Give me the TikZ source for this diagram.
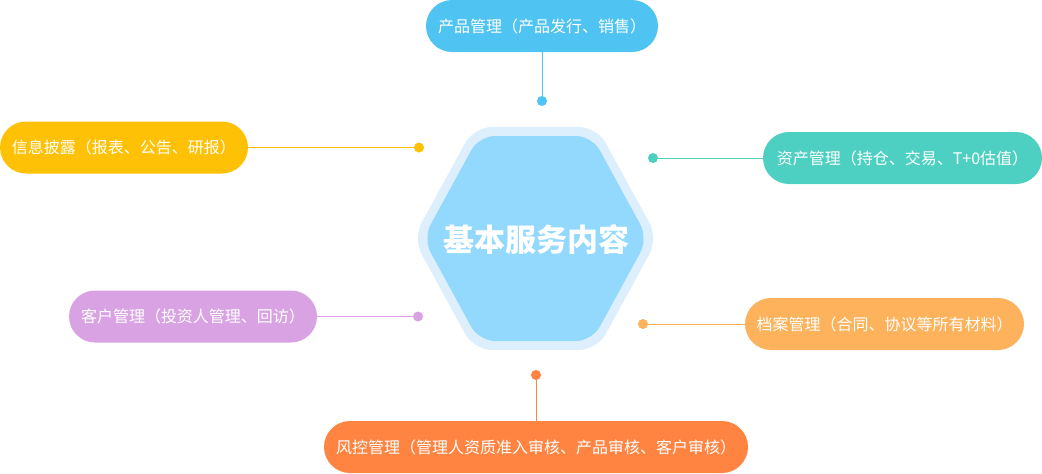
\documentclass[tikz,border=0pt]{standalone}
\usepackage{fontspec}
\usepackage{tikz}
\usetikzlibrary{positioning,calc}
\newfontfamily\cjk{Noto Sans CJK SC}
\definecolor{hexout}{HTML}{DDEFFD}
\definecolor{hexin}{HTML}{93D9FD}
\definecolor{cblue}{HTML}{4FC4F2}
\definecolor{cyellow}{HTML}{FFC105}
\definecolor{cteal}{HTML}{4DD0C1}
\definecolor{cpurple}{HTML}{D9A3E3}
\definecolor{corange}{HTML}{FDB25B}
\definecolor{cred}{HTML}{FF8442}

\begin{document}
\begin{tikzpicture}[x=1pt,y=-1pt,
    pill/.style={fill=#1, text=white, rounded corners=26pt, minimum height=52pt,
      inner sep=0pt, font=\cjk\fontsize{16}{16}\selectfont},
    dot/.style={circle, fill=#1, minimum size=10pt, inner sep=0pt},
    link/.style={draw=#1, line width=1pt}]
      \useasboundingbox (0,0) rectangle (1042,474);
      % center hexagon
      \fill[hexout, rounded corners=18pt] (413,238.5) -- (474,127) -- (597,127) -- (658,238.5) -- (597,350) -- (474,350) -- cycle;
      \fill[hexin, rounded corners=16pt] (423,238.5) -- (479,136) -- (592,136) -- (648,238.5) -- (592,341) -- (479,341) -- cycle;
      \node[text=white, font=\cjk\bfseries\fontsize{31}{31}\selectfont] (core) at (536,240) {基本服务内容};
      % items
      \node[pill=cblue, minimum width=232pt] (prod) at (542,26) {产品管理（产品发行、销售）};
      \node[pill=cyellow, minimum width=248pt] (info) at (124,147.5) {信息披露（报表、公告、研报）};
      \node[pill=cteal, minimum width=279pt] (asset) at (902.5,158) {资产管理（持仓、交易、T+0估值）};
      \node[pill=cpurple, minimum width=248pt] (cust) at (193,316.5) {客户管理（投资人管理、回访）};
      \node[pill=corange, minimum width=279pt] (file) at (884.5,324) {档案管理（合同、协议等所有材料）};
      \node[pill=cred, minimum width=424pt] (risk) at (536,447) {风控管理（管理人资质准入审核、产品审核、客户审核）};
      % dots
      \node[dot=cblue] (prodDot) at (542,101) {};
      \node[dot=cyellow] (infoDot) at (419,147.5) {};
      \node[dot=cteal] (assetDot) at (653,158) {};
      \node[dot=cpurple] (custDot) at (418,316.5) {};
      \node[dot=corange] (fileDot) at (643,324) {};
      \node[dot=cred] (riskDot) at (536,375) {};
      % links
      \draw[link=cblue] (prod) -- (prodDot);
      \draw[link=cyellow] (info) -- (infoDot);
      \draw[link=cteal] (asset) -- (assetDot);
      \draw[link=cpurple] (cust) -- (custDot);
      \draw[link=corange] (file) -- (fileDot);
      \draw[link=cred] (risk) -- (riskDot);
    \end{tikzpicture}
\end{document}
